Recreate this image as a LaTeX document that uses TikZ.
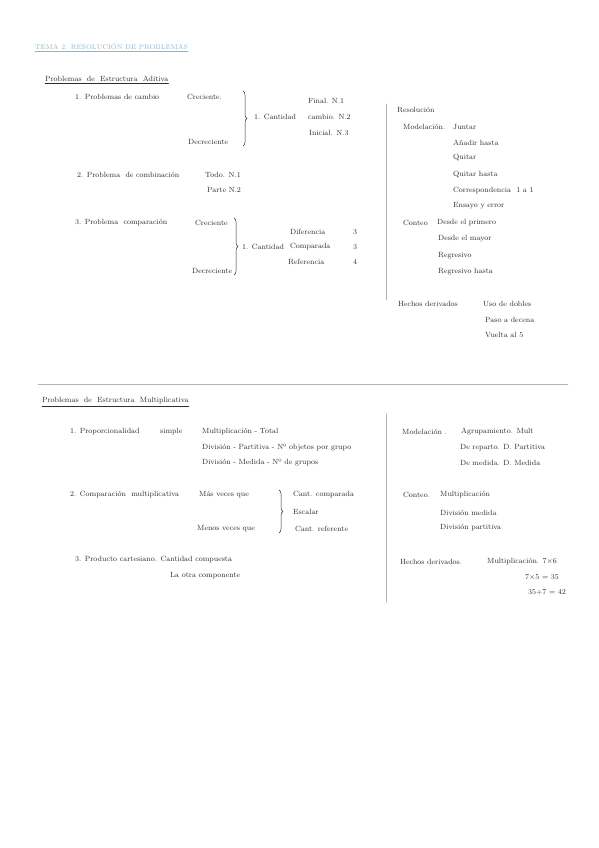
\documentclass[tikz,border=0pt]{standalone}
\usetikzlibrary{decorations.pathreplacing}
\definecolor{ink}{HTML}{2E2E2E}
\definecolor{tinta}{HTML}{8DB6CF}
\definecolor{regla}{HTML}{B4B4B4}
\tikzset{
  txt/.style={anchor=west,inner sep=0pt,text=ink,font=\fontsize{7.5}{9}\selectfont},
  tit/.style={txt,text=tinta,font=\fontsize{6.8}{8}\selectfont},
  brace/.style={draw=ink,line width=0.5pt,decorate,decoration={brace,amplitude=4pt}},
  regline/.style={draw=regla,line width=0.8pt}
}
\begin{document}
\begin{tikzpicture}[x=1pt,y=-1pt,line cap=round,line join=round]
\useasboundingbox[fill=white] (0,0) rectangle (599,848);

% title
\node[tit] (tema) at (35,46) {TEMA 2. RESOLUCIÓN DE PROBLEMAS};
\draw[tinta,line width=0.4pt] ([yshift=-1.5pt]tema.south west) -- ([yshift=-1.5pt]tema.south east);

% ---- estructura aditiva ----
\node[txt] (hAd) at (45,79) {Problemas \ de \ Estructura \ Aditiva};
\draw[ink,line width=0.5pt] ([yshift=-1.5pt]hAd.south west) -- ([yshift=-1.5pt]hAd.south east);

% 1. cambio
\node[txt] (p1) at (75,97) {1. Problemas de cambio};
\node[txt] (cre1) at (187,97) {Creciente.};
\node[txt] (dec1) at (188,142) {Decreciente};
\coordinate (b1t) at (243,91);
\coordinate (b1b) at (243,146);
\draw[brace] (b1t) -- (b1b);
\node[txt] (can1) at (254,117) {1. Cantidad};
\node[txt] (fin1) at (308,101) {Final. N.1};
\node[txt] (cam1) at (308,117) {cambio. N.2};
\node[txt] (ini1) at (309,133) {Inicial. N.3};

% 2. combinacion
\node[txt] (p2) at (77,175) {2. Problema \ de combinación};
\node[txt] (todo) at (205,175) {Todo. N.1};
\node[txt] (parte) at (207,190) {Parte N.2};

% 3. comparacion
\node[txt] (p3) at (75,223) {3. Problema \ comparación};
\node[txt] (cre3) at (195,223) {Creciente};
\node[txt] (dec3) at (192,271) {Decreciente};
\coordinate (b3t) at (234,218);
\coordinate (b3b) at (234,275);
\draw[brace] (b3t) -- (b3b);
\node[txt] (can3) at (242,247) {1. Cantidad};
\node[txt] (dif) at (290,232) {Diferencia};
\node[txt] (com) at (290,247) {Comparada};
\node[txt] (ref) at (288,262) {Referencia};
\node[txt] (n3a) at (353,232) {3};
\node[txt] (n3b) at (353,247) {3};
\node[txt] (n4) at (353,262) {4};

% separador derecho
\coordinate (v1t) at (386,104);
\coordinate (v1b) at (386,300);
\draw[regline] (v1t) -- (v1b);

% resolucion
\node[txt] (res) at (397,110) {Resolución};
\node[txt] (mod) at (403,127) {Modelación.};
\node[txt] (jun) at (453,127) {Juntar};
\node[txt] (ana) at (453,143) {Añadir hasta};
\node[txt] (qui) at (453,158) {Quitar};
\node[txt] (quih) at (453,175) {Quitar hasta};
\node[txt] (cor) at (453,191) {Correspondencia \ 1 a 1};
\node[txt] (ens) at (453,206) {Ensayo y error};
\node[txt] (cont) at (403,223) {Conteo};
\node[txt] (dp) at (437,223) {Desde el primero};
\node[txt] (dm) at (438,239) {Desde el mayor};
\node[txt] (reg) at (438,256) {Regresivo};
\node[txt] (regh) at (438,272) {Regresivo hasta};
\node[txt] (hec) at (398,304) {Hechos derivados};
\node[txt] (dob) at (483,304) {Uso de dobles};
\node[txt] (dec) at (485,320) {Paso a decena};
\node[txt] (vue) at (485,335) {Vuelta al 5};

% separador horizontal
\coordinate (hl) at (38,384);
\coordinate (hr) at (568,384);
\draw[regline] (hl) -- (hr);

% ---- estructura multiplicativa ----
\node[txt] (hMu) at (42,401) {Problemas \ de \ Estructura \ Multiplicativa};
\draw[ink,line width=0.5pt] ([yshift=-1.5pt]hMu.south west) -- ([yshift=-1.5pt]hMu.south east);

% 1. proporcionalidad
\node[txt] (m1) at (70,432) {1. Proporcionalidad};
\node[txt] (sim) at (160,432) {simple};
\node[txt] (mul) at (202,432) {Multiplicación - Total};
\node[txt] (dpar) at (202,448) {División - Partitiva - Nº objetos por grupo};
\node[txt] (dmed) at (202,463) {División - Medida - Nº de grupos};

% 2. comparacion multiplicativa
\node[txt] (m2) at (70,495) {2. Comparación \ multiplicativa};
\node[txt] (mas) at (199,495) {Más veces que};
\node[txt] (men) at (197,529) {Menos veces que};
\coordinate (b2t) at (279,490);
\coordinate (b2b) at (279,533);
\draw[brace] (b2t) -- (b2b);
\node[txt] (cc) at (293,495) {Cant. comparada};
\node[txt] (esc) at (293,512) {Escalar};
\node[txt] (cr) at (295,529) {Cant. referente};

% 3. producto cartesiano
\node[txt] (m3) at (75,560) {3. Producto cartesiano. Cantidad compuesta};
\node[txt] (otra) at (170,576) {La otra componente};

% separador derecho
\coordinate (v2t) at (386,414);
\coordinate (v2b) at (386,602);
\draw[regline] (v2t) -- (v2b);

% modelacion, conteo, hechos
\node[txt] (mod2) at (402,432) {Modelación .};
\node[txt] (agr) at (461,432) {Agrupamiento. Mult};
\node[txt] (rep) at (460,448) {De reparto. D. Partitiva};
\node[txt] (med) at (460,463) {De medida. D. Medida};
\node[txt] (cont2) at (403,495) {Conteo.};
\node[txt] (cmul) at (440,495) {Multiplicación};
\node[txt] (cdm) at (440,513) {División medida};
\node[txt] (cdp) at (440,528) {División partitiva};
\node[txt] (hec2) at (400,562) {Hechos derivados.};
\node[txt] (hmul) at (487,562) {Multiplicación. 7×6};
\node[txt] (h35) at (525,577) {7×5 = 35};
\node[txt] (h42) at (528,592) {35+7 = 42};

\end{tikzpicture}
\end{document}
